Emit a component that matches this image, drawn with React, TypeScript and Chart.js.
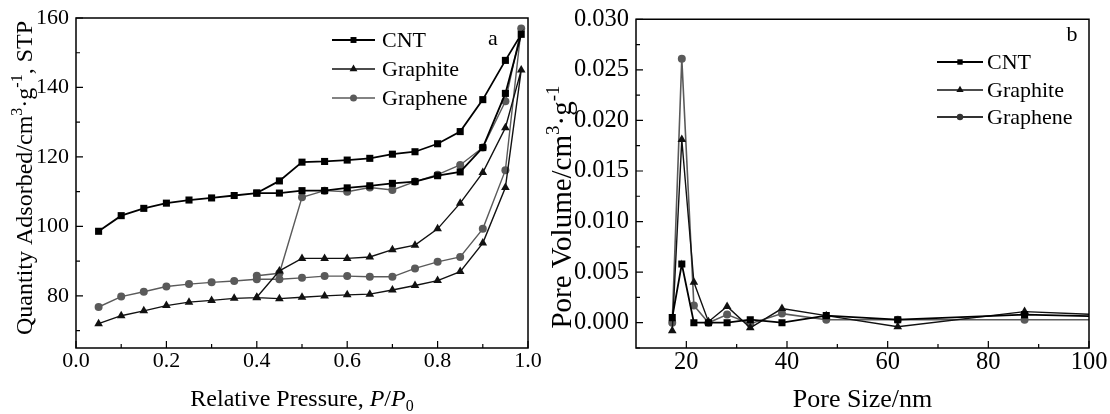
import React, { useEffect, useRef } from 'react';
import { Chart, registerables } from 'chart.js';
Chart.register(...registerables);

const FONT = '"Liberation Serif", "Times New Roman", serif';

// ---------- Panel a: N2 isotherms ----------
const adsPressure = [0.05, 0.10, 0.15, 0.20, 0.25, 0.30, 0.35, 0.40, 0.45, 0.50, 0.55, 0.60, 0.65, 0.70, 0.75, 0.80, 0.85, 0.90, 0.95, 0.985];
const desPressure = [0.95, 0.90, 0.85, 0.80, 0.75, 0.70, 0.65, 0.60, 0.55, 0.50, 0.45, 0.40];

const cntAds = [98.6, 103.1, 105.2, 106.7, 107.6, 108.2, 108.9, 109.6, 109.6, 110.3, 110.3, 111.1, 111.7, 112.4, 112.9, 114.6, 115.7, 122.7, 138.3, 155.3];
const cntDes = [147.8, 136.5, 127.3, 123.8, 121.5, 120.8, 119.6, 119.1, 118.7, 118.5, 113.1, 109.6];

const graphiteAds = [72.0, 74.3, 75.7, 77.2, 78.2, 78.7, 79.3, 79.5, 79.2, 79.6, 80.0, 80.3, 80.5, 81.7, 83.0, 84.4, 87.0, 95.2, 111.2, 145.0];
const graphiteDes = [128.4, 115.5, 106.7, 99.3, 94.6, 93.3, 91.2, 90.8, 90.8, 90.8, 87.2, 79.6];

const grapheneAds = [76.8, 79.8, 81.2, 82.7, 83.4, 83.9, 84.3, 84.8, 84.8, 85.2, 85.7, 85.7, 85.5, 85.5, 87.9, 89.8, 91.2, 99.3, 116.2, 157.0];
const grapheneDes = [136.0, 122.7, 117.7, 114.9, 112.9, 110.5, 111.2, 110.0, 110.3, 108.4, 86.5, 85.8];

const xTicksA = [0, 0.2, 0.4, 0.6, 0.8, 1.0];
const xMinorA = [0.1, 0.3, 0.5, 0.7, 0.9];
const yTicksA = [80, 100, 120, 140, 160];
const yMinorA = [70, 90, 110, 130, 150];

// ---------- Panel b: pore size distribution ----------
const poreSize = [17.2, 19.1, 21.5, 24.4, 28.1, 32.7, 39.0, 47.8, 62.0, 87.2, 112];
const cntPore = [0.0005, 0.0058, 0.0000, 0.0000, 0.0000, 0.0003, 0.0000, 0.0007, 0.0003, 0.0008, 0.0005];
const graphitePore = [-0.0008, 0.0181, 0.0040, 0.0001, 0.0016, -0.0005, 0.0014, 0.0007, -0.0004, 0.0011, 0.0006];
const graphenePore = [0.0000, 0.0261, 0.0017, 0.0000, 0.0008, -0.0001, 0.0009, 0.0003, 0.0003, 0.0003, 0.0003];

const xTicksB = [20, 40, 60, 80, 100];
const xMinorB = [30, 50, 70, 90];
const yTicksB = [0, 0.005, 0.01, 0.015, 0.02, 0.025, 0.03];
const yMinorB = [-0.0025, 0.0025, 0.0075, 0.0125, 0.0175, 0.0225, 0.0275];

const seriesNames = ['CNT', 'Graphite', 'Graphene'];
const GRAY = '#5a5a5a';

type Seg = { t: string; it?: boolean; sup?: boolean; sub?: boolean };

function drawRich(ctx: CanvasRenderingContext2D, segs: Seg[], cx: number, cy: number, size: number, rotate: boolean) {
  const fontFor = (s: Seg) => `${s.it ? 'italic ' : ''}${s.sup || s.sub ? Math.round(size * 0.65) : size}px ${FONT}`;
  let w = 0;
  for (const s of segs) { ctx.font = fontFor(s); w += ctx.measureText(s.t).width; }
  ctx.save();
  ctx.translate(cx, cy);
  if (rotate) ctx.rotate(-Math.PI / 2);
  ctx.textBaseline = 'alphabetic';
  ctx.textAlign = 'left';
  ctx.fillStyle = '#000';
  let x = -w / 2;
  const base = size * 0.33;
  for (const s of segs) {
    ctx.font = fontFor(s);
    const dy = s.sup ? -size * 0.4 : s.sub ? size * 0.2 : 0;
    ctx.fillText(s.t, x, base + dy);
    x += ctx.measureText(s.t).width;
  }
  ctx.restore();
}

function drawMarker(ctx: CanvasRenderingContext2D, style: string, x: number, y: number, r: number, color: string) {
  ctx.fillStyle = color;
  ctx.beginPath();
  if (style === 'rect') {
    const s = r * Math.SQRT1_2;
    ctx.rect(x - s, y - s, 2 * s, 2 * s);
  } else if (style === 'triangle') {
    for (let i = 0; i < 3; i++) {
      const a = (i * 2 * Math.PI) / 3;
      const px = x + Math.sin(a) * r;
      const py = y - Math.cos(a) * r;
      if (i === 0) ctx.moveTo(px, py); else ctx.lineTo(px, py);
    }
    ctx.closePath();
  } else {
    ctx.arc(x, y, r, 0, Math.PI * 2);
  }
  ctx.fill();
}

type LegendItem = { name: string; style: string; color: string; lw: number; r: number };
type Decor = {
  xMajor: number[]; xMinor: number[]; yMajor: number[]; yMinor: number[];
  xTitle: Seg[]; yTitle: Seg[]; yTitleX: number; yTitleY: number; xTitleY: number; titleSize: number; yTitleSize: number;
  legend: LegendItem[]; legX1: number; legX2: number; legTextX: number; legRows: number[];
  tag: string; tagX: number; tagY: number;
};

function decorPlugin(d: Decor) {
  return {
    id: 'decor',
    afterDraw(chart: any) {
      const ctx: CanvasRenderingContext2D = chart.ctx;
      const { left, right, top, bottom } = chart.chartArea;
      const xs = chart.scales.x;
      const ys = chart.scales.y;
      ctx.save();
      ctx.strokeStyle = '#000';
      ctx.lineWidth = 1.5;
      ctx.strokeRect(left, top, right - left, bottom - top);
      ctx.lineWidth = 1.2;
      ctx.beginPath();
      for (const v of d.xMajor) { const p = xs.getPixelForValue(v); ctx.moveTo(p, bottom); ctx.lineTo(p, bottom - 7); }
      for (const v of d.xMinor) { const p = xs.getPixelForValue(v); ctx.moveTo(p, bottom); ctx.lineTo(p, bottom - 4); }
      for (const v of d.yMajor) { const p = ys.getPixelForValue(v); ctx.moveTo(left, p); ctx.lineTo(left + 7, p); }
      for (const v of d.yMinor) { const p = ys.getPixelForValue(v); ctx.moveTo(left, p); ctx.lineTo(left + 4, p); }
      ctx.stroke();

      drawRich(ctx, d.xTitle, (left + right) / 2, d.xTitleY, d.titleSize, false);
      drawRich(ctx, d.yTitle, d.yTitleX, d.yTitleY, d.yTitleSize, true);

      d.legend.forEach((it, i) => {
        const y = d.legRows[i];
        ctx.strokeStyle = it.color;
        ctx.lineWidth = it.lw;
        ctx.beginPath();
        ctx.moveTo(d.legX1, y);
        ctx.lineTo(d.legX2, y);
        ctx.stroke();
        drawMarker(ctx, it.style, (d.legX1 + d.legX2) / 2, y, it.r, it.color);
        ctx.fillStyle = '#000';
        ctx.font = `22px ${FONT}`;
        ctx.textBaseline = 'middle';
        ctx.textAlign = 'left';
        ctx.fillText(it.name, d.legTextX, y + 1);
      });
      ctx.font = `22px ${FONT}`;
      ctx.textBaseline = 'middle';
      ctx.textAlign = 'center';
      ctx.fillStyle = '#000';
      ctx.fillText(d.tag, d.tagX, d.tagY);
      ctx.restore();
    },
  };
}

function makeScales(xMin: number, xMax: number, yMin: number, yMax: number, xT: number[], yT: number[], xDec: number, yDec: number, yWidth: number, fontSize: number) {
  const tickFont = { family: FONT, size: fontSize, lineHeight: 1 };
  return {
    x: {
      type: 'linear', min: xMin, max: xMax,
      afterBuildTicks: (s: any) => { s.ticks = xT.map((v) => ({ value: v })); },
      afterFit: (s: any) => { s.height = 66; },
      ticks: { font: tickFont, color: '#000', padding: 2, autoSkip: false, maxRotation: 0, callback: (v: any) => Number(v).toFixed(xDec) },
      grid: { display: false, drawTicks: false },
      border: { display: false },
    },
    y: {
      type: 'linear', min: yMin, max: yMax,
      afterBuildTicks: (s: any) => { s.ticks = yT.map((v) => ({ value: v })); },
      afterFit: (s: any) => { s.width = yWidth; },
      ticks: { font: tickFont, color: '#000', padding: 7, autoSkip: false, callback: (v: any) => Number(v).toFixed(yDec) },
      grid: { display: false, drawTicks: false },
      border: { display: false },
    },
  };
}

function loop(ads: number[], des: number[]) {
  return [
    ...adsPressure.map((p, i) => ({ x: p, y: ads[i] })),
    ...desPressure.map((p, i) => ({ x: p, y: des[i] })),
  ];
}

function ds(label: string, data: any[], color: string, lw: number, style: string, r: number) {
  return {
    label, data, borderColor: color, borderWidth: lw, pointStyle: style, pointRadius: r,
    pointBackgroundColor: color, pointBorderColor: color, pointBorderWidth: 0, tension: 0, fill: false,
  };
}

function configA(): any {
  return {
    type: 'line',
    data: {
      datasets: [
        ds(seriesNames[0], loop(cntAds, cntDes), '#000', 1.8, 'rect', 5),
        ds(seriesNames[1], loop(graphiteAds, graphiteDes), '#111', 1.4, 'triangle', 5),
        ds(seriesNames[2], loop(grapheneAds, grapheneDes), GRAY, 1.4, 'circle', 4),
      ],
    },
    options: {
      animation: false, responsive: false, devicePixelRatio: 1, events: [],
      layout: { padding: { left: 0, right: 17, top: 16, bottom: 0 } },
      plugins: { legend: { display: false }, tooltip: { enabled: false } },
      scales: makeScales(0, 1, 65, 160, xTicksA, yTicksA, 1, 0, 76, 22),
    },
    plugins: [decorPlugin({
      xMajor: xTicksA, xMinor: xMinorA, yMajor: yTicksA, yMinor: yMinorA,
      xTitle: [{ t: 'Relative Pressure, ' }, { t: 'P', it: true }, { t: '/' }, { t: 'P', it: true }, { t: '0', sub: true }],
      yTitle: [{ t: 'Quantity Adsorbed/cm' }, { t: '3', sup: true }, { t: '·g' }, { t: '-1', sup: true }, { t: ', STP' }],
      yTitleX: 24, yTitleY: 178, xTitleY: 398, titleSize: 24, yTitleSize: 24,
      legend: [
        { name: seriesNames[0], style: 'rect', color: '#000', lw: 2, r: 4.2 },
        { name: seriesNames[1], style: 'triangle', color: '#111', lw: 1.4, r: 4.5 },
        { name: seriesNames[2], style: 'circle', color: GRAY, lw: 1.4, r: 3.5 },
      ],
      legX1: 332, legX2: 375, legTextX: 382, legRows: [40, 69, 98],
      tag: 'a', tagX: 493, tagY: 39,
    })],
  };
}

const OFFB = 545;

function configB(): any {
  const pts = (vals: number[]) => poreSize.map((x, i) => ({ x, y: vals[i] }));
  return {
    type: 'line',
    data: {
      datasets: [
        ds(seriesNames[0], pts(cntPore), '#000', 1.8, 'rect', 5),
        ds(seriesNames[1], pts(graphitePore), '#111', 1.4, 'triangle', 5),
        ds(seriesNames[2], pts(graphenePore), GRAY, 1.6, 'circle', 4),
      ],
    },
    options: {
      animation: false, responsive: false, devicePixelRatio: 1, events: [],
      layout: { padding: { left: 0, right: 21, top: 16, bottom: 0 } },
      plugins: { legend: { display: false }, tooltip: { enabled: false } },
      scales: makeScales(10, 100, -0.0025, 0.03, xTicksB, yTicksB, 0, 3, 91, 24.5),
    },
    plugins: [decorPlugin({
      xMajor: xTicksB, xMinor: xMinorB, yMajor: yTicksB, yMinor: yMinorB,
      xTitle: [{ t: 'Pore Size/nm' }],
      yTitle: [{ t: 'Pore Volume/cm' }, { t: '3', sup: true }, { t: '·g' }, { t: '-1', sup: true }],
      yTitleX: 561 - OFFB, yTitleY: 207, xTitleY: 398, titleSize: 26, yTitleSize: 29,
      legend: [
        { name: seriesNames[0], style: 'rect', color: '#000', lw: 2.2, r: 3.8 },
        { name: seriesNames[1], style: 'triangle', color: '#111', lw: 1.3, r: 4.2 },
        { name: seriesNames[2], style: 'circle', color: '#333', lw: 1.8, r: 3.2 },
      ],
      legX1: 937 - OFFB, legX2: 983 - OFFB, legTextX: 987 - OFFB, legRows: [62, 90, 117],
      tag: 'b', tagX: 1072 - OFFB, tagY: 35,
    })],
  };
}

function Panel({ make, left, width }: { make: () => any; left: number; width: number }) {
  const ref = useRef<HTMLCanvasElement | null>(null);
  useEffect(() => {
    const chart = new Chart(ref.current as HTMLCanvasElement, make());
    return () => chart.destroy();
  }, [make]);
  return (
    <canvas
      ref={ref}
      width={width}
      height={414}
      style={{ position: 'absolute', left, top: 0, width, height: 414, display: 'block' }}
    />
  );
}

export default function App() {
  return (
    <div style={{ position: 'absolute', left: 0, top: 0, width: 1110, height: 414, background: '#fff', overflow: 'hidden' }}>
      <Panel make={configA} left={0} width={OFFB} />
      <Panel make={configB} left={OFFB} width={1110 - OFFB} />
    </div>
  );
}
